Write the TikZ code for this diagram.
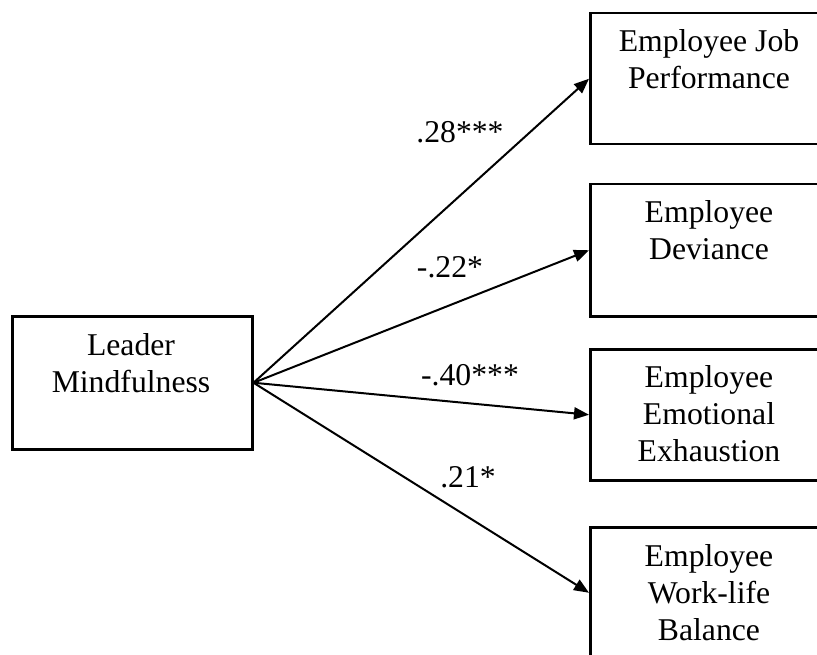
\documentclass[tikz,border=0pt]{standalone}
\usepackage{fontspec}
\setmainfont{Liberation Serif}
\usetikzlibrary{arrows.meta}
\tikzset{
  box/.style={draw, line width=2.5pt, minimum width=240pt, inner sep=0pt, anchor=north west},
  lbl/.style={font=\fontsize{31.7}{37}\selectfont, align=center, inner sep=0pt, anchor=base},
  arr/.style={line width=2pt, -{Triangle[length=15pt,width=12pt]}},
}
\begin{document}
\begin{tikzpicture}[x=1pt,y=1pt]
\useasboundingbox (0,0) rectangle (817,-655);
\clip (0,0) rectangle (817,-655);
\fill[white] (0,0) rectangle (817,-655);
% boxes
\node[box, minimum height=133pt] (L) at (11,-315) {};
\node[box, minimum height=131pt] (b1) at (589,-12) {};
\node[box, minimum height=132pt] (b2) at (589,-183) {};
\node[box, minimum height=131pt] (b3) at (589,-348) {};
\node[box, minimum height=131pt] (b4) at (589,-526) {};
% texts (anchor at baseline of last line)
\node[lbl] (tL) at (131,-392) {Leader\\Mindfulness};
\node[lbl] (t1) at (709,-89) {Employee Job\\Performance};
\node[lbl] (t2) at (709,-260) {Employee\\Deviance};
\node[lbl] (t3) at (709,-461) {Employee\\Emotional\\Exhaustion};
\node[lbl] (t4) at (709,-640) {Employee\\Work-life\\Balance};
% arrows
\draw[arr] (L.east) -- (b1.west);
\draw[arr] (L.east) -- (b2.west);
\draw[arr] (L.east) -- (b3.west);
\draw[arr] (L.east) -- (b4.west);
% coefficients
\node[lbl] (c1) at (460,-143) {.28***};
\node[lbl] (c2) at (450,-278) {-.22*};
\node[lbl] (c3) at (470,-385) {-.40***};
\node[lbl] (c4) at (468,-487) {.21*};
\end{tikzpicture}
\end{document}
